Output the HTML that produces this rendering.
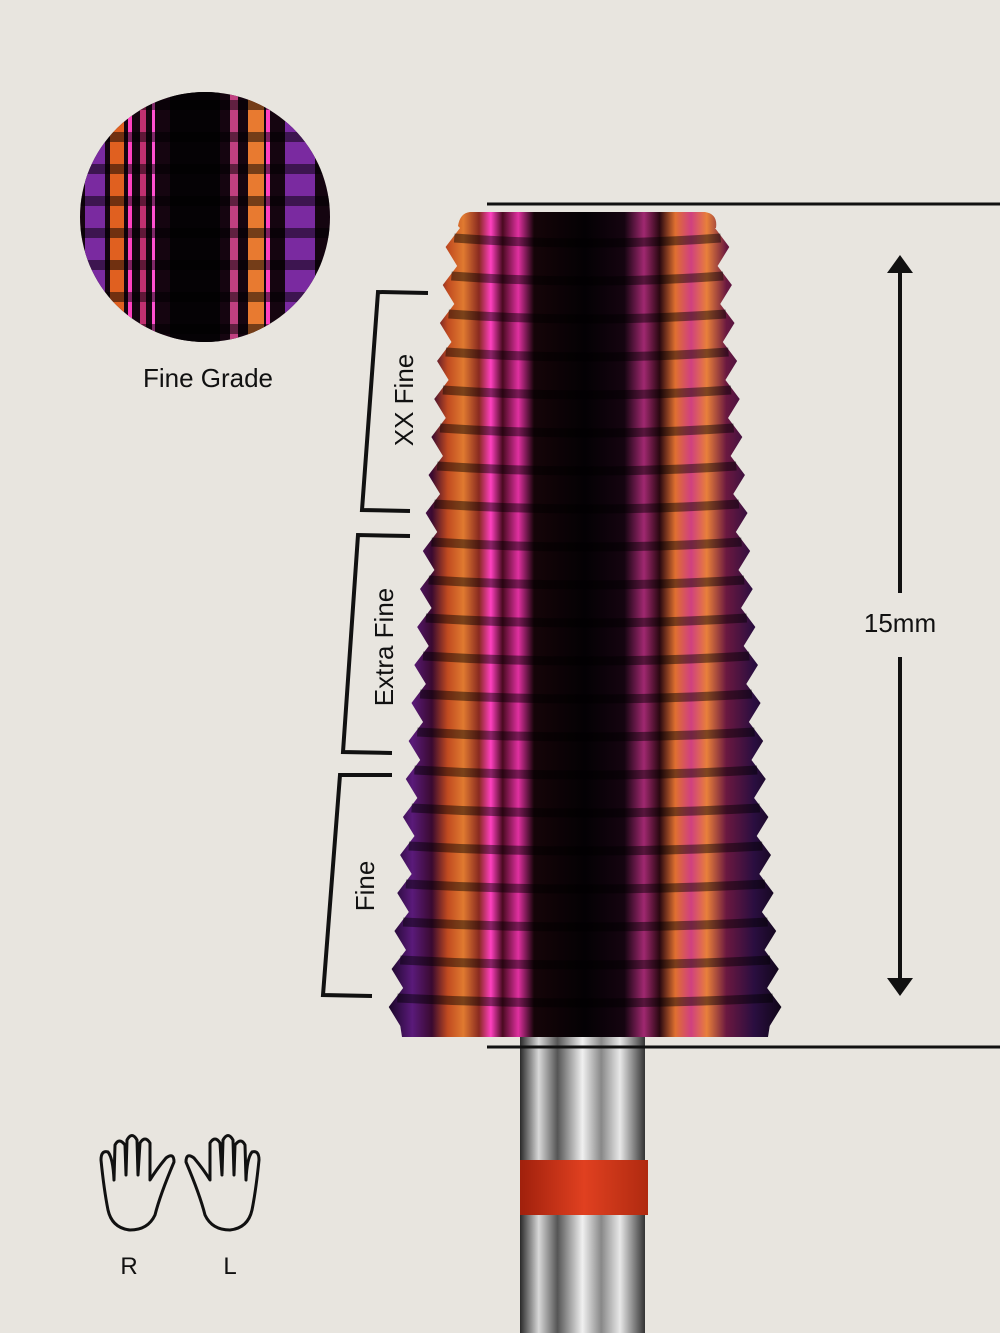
<!DOCTYPE html>
<html><head><meta charset="utf-8"><style>
html,body{margin:0;padding:0;}
body{width:1000px;height:1333px;background:#e8e5df;overflow:hidden;position:relative;font-family:"Liberation Sans",sans-serif;}
svg{position:absolute;left:0;top:0;}
</style></head><body>
<svg id="s" width="1000" height="1333" viewBox="0 0 1000 1333">
<defs>
<linearGradient id="stripes" x1="0" x2="1" y1="0" y2="0">
<stop offset="0" stop-color="#1a0628"/>
<stop offset="0.06" stop-color="#5a1a7a"/>
<stop offset="0.11" stop-color="#3a0a30"/>
<stop offset="0.15" stop-color="#c04a20"/>
<stop offset="0.19" stop-color="#e07a30"/>
<stop offset="0.23" stop-color="#8a2a20"/>
<stop offset="0.26" stop-color="#ff40c0"/>
<stop offset="0.29" stop-color="#4a0a20"/>
<stop offset="0.33" stop-color="#e030a0"/>
<stop offset="0.37" stop-color="#150408"/>
<stop offset="0.5" stop-color="#040104"/>
<stop offset="0.6" stop-color="#150410"/>
<stop offset="0.65" stop-color="#a02870"/>
<stop offset="0.69" stop-color="#2a0810"/>
<stop offset="0.73" stop-color="#e07030"/>
<stop offset="0.77" stop-color="#d04080"/>
<stop offset="0.81" stop-color="#e8803a"/>
<stop offset="0.86" stop-color="#6a1840"/>
<stop offset="0.93" stop-color="#2a0e40"/>
<stop offset="1" stop-color="#100618"/>
</linearGradient>
<linearGradient id="shank" x1="0" x2="1">
<stop offset="0" stop-color="#2a2a2a"/>
<stop offset="0.15" stop-color="#d8d8d8"/>
<stop offset="0.3" stop-color="#555"/>
<stop offset="0.5" stop-color="#f0f0f0"/>
<stop offset="0.65" stop-color="#888"/>
<stop offset="0.8" stop-color="#e8e8e8"/>
<stop offset="1" stop-color="#333"/>
</linearGradient>
<linearGradient id="red" x1="0" x2="1">
<stop offset="0" stop-color="#a0200c"/>
<stop offset="0.5" stop-color="#e04020"/>
<stop offset="1" stop-color="#b02a10"/>
</linearGradient>
<clipPath id="cc"><circle cx="205" cy="217" r="125"/></clipPath>
</defs>
<rect x="520" y="1035" width="125" height="300" fill="url(#shank)"/>
<rect x="520" y="1160" width="128" height="55" fill="url(#red)"/>
<path id="bit" fill="url(#stripes)"/>
<g id="ribs"></g>
<g clip-path="url(#cc)">
<rect x="80" y="90" width="250" height="260" fill="#150510"/>
<g id="crib"></g>
</g>
<text x="208" y="387" font-size="26" text-anchor="middle" fill="#111">Fine Grade</text>
<line x1="487" y1="204" x2="1000" y2="204" stroke="#111" stroke-width="3"/>
<line x1="487" y1="1047" x2="1000" y2="1047" stroke="#111" stroke-width="3"/>
<line x1="900" y1="268" x2="900" y2="593" stroke="#111" stroke-width="4"/>
<line x1="900" y1="657" x2="900" y2="982" stroke="#111" stroke-width="4"/>
<polygon points="900,255 887,273 913,273" fill="#111"/>
<polygon points="900,996 887,978 913,978" fill="#111"/>
<text x="900" y="632" font-size="26" text-anchor="middle" fill="#111">15mm</text>
<g fill="none" stroke="#111" stroke-width="4">
<polyline points="428,293 378,292 362,510 410,511"/>
<polyline points="410,536 358,535 343,752 392,753"/>
<polyline points="392,775 340,775 323,995 372,996"/>
</g>
<g font-size="26" fill="#111" text-anchor="middle">
<text transform="translate(413,400) rotate(-90)">XX Fine</text>
<text transform="translate(393,647) rotate(-90)">Extra Fine</text>
<text transform="translate(374,886) rotate(-90)">Fine</text>
</g>
<g fill="none" stroke="#111" stroke-width="3" stroke-linejoin="round" stroke-linecap="round">
<path d="M108,1210 Q104,1190 101,1160 Q101,1150 108,1152 Q113,1158 114,1180 L115,1145 Q119,1137 125,1145 L126,1175 L127,1140 Q132,1131 137,1140 L138,1175 L140,1143 Q145,1135 150,1143 L150,1180 Q156,1170 166,1158 Q174,1152 174,1162 Q160,1195 155,1215 Q148,1230 130,1230 Q112,1228 108,1210 Z"/>
<path transform="translate(360,0) scale(-1,1)" d="M108,1210 Q104,1190 101,1160 Q101,1150 108,1152 Q113,1158 114,1180 L115,1145 Q119,1137 125,1145 L126,1175 L127,1140 Q132,1131 137,1140 L138,1175 L140,1143 Q145,1135 150,1143 L150,1180 Q156,1170 166,1158 Q174,1152 174,1162 Q160,1195 155,1215 Q148,1230 130,1230 Q112,1228 108,1210 Z"/>
</g>
<text x="129" y="1274" font-size="24" text-anchor="middle" fill="#111">R</text>
<text x="230" y="1274" font-size="24" text-anchor="middle" fill="#111">L</text>
</svg>
<script>
(function(){
var NS="http://www.w3.org/2000/svg";
var top=228,bot=1030,per=38,d=13;
var L=[],R=[];
for(var y=top;y<=bot;y+=per/2){
 var t=(y-top)/(bot-top);
 var k=Math.round((y-top)/(per/2))%2;
 var lx=460-60*t-(k?d:0), rx=715+55*t+(k?d:0);
 L.push([lx,y]);R.push([rx,y]);
}
var p="M470,212 L705,212 Q718,214 716,228 ";
R.forEach(function(q){p+="L"+q[0]+","+q[1]+" ";});
p+="L768,1037 L402,1037 ";
for(var i=L.length-1;i>=0;i--)p+="L"+L[i][0]+","+L[i][1]+" ";
p+="L458,226 Q460,213 470,212 Z";
document.getElementById("bit").setAttribute("d",p);
var g=document.getElementById("ribs");
for(var y=top+10;y<bot;y+=per){
 var t=(y-top)/(bot-top);
 var a=455-60*t,b=720+55*t;
 var r=document.createElementNS(NS,"path");
 r.setAttribute("d","M"+a+","+y+" Q"+((a+b)/2)+","+(y+10)+" "+b+","+y);
 r.setAttribute("stroke","rgba(0,0,0,0.45)");r.setAttribute("stroke-width","9");r.setAttribute("fill","none");
 g.appendChild(r);
}
var c=document.getElementById("crib");
var cols=[["#7a2aa0",85,20],["#e06020",110,14],["#ff40c0",128,4],["#c03070",140,6],["#ff50d0",152,3],["#050205",170,50],["#c04080",230,8],["#e87a30",248,16],["#ff40c0",266,4],["#7a2aa0",285,30]];
cols.forEach(function(s){var r=document.createElementNS(NS,"rect");r.setAttribute("x",s[1]);r.setAttribute("y",90);r.setAttribute("width",s[2]);r.setAttribute("height",260);r.setAttribute("fill",s[0]);c.appendChild(r);});
for(var y=100;y<350;y+=32){var r=document.createElementNS(NS,"rect");r.setAttribute("x",80);r.setAttribute("y",y);r.setAttribute("width",250);r.setAttribute("height",10);r.setAttribute("fill","rgba(0,0,0,0.5)");c.appendChild(r);}
})();
</script>
</body></html>
